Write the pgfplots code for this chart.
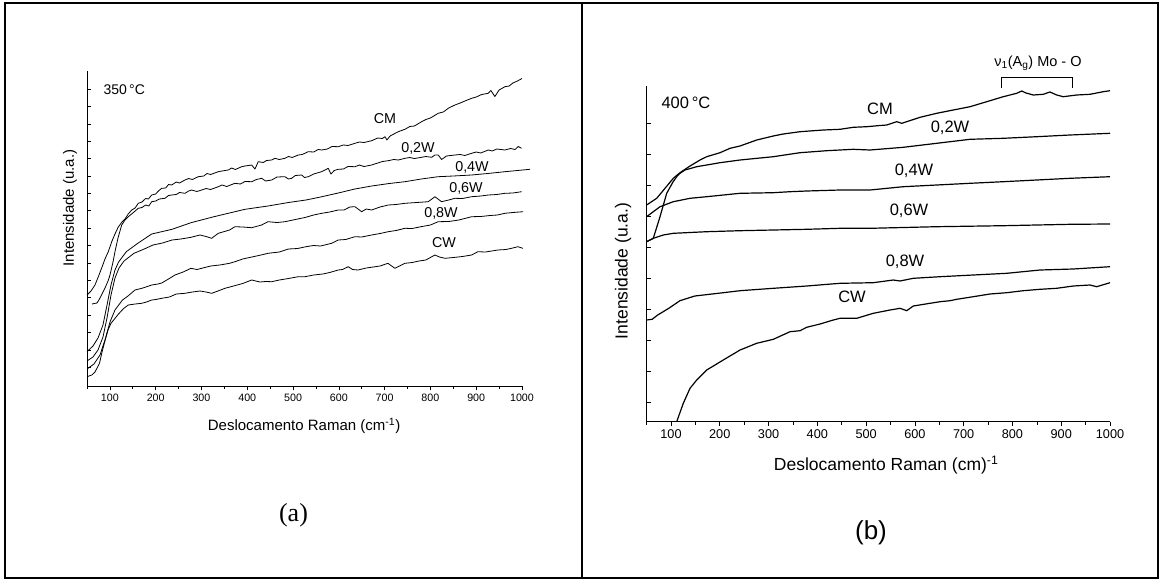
\documentclass[border=0pt]{standalone}
\usepackage{fontspec}
\setmainfont{Liberation Sans}
\newfontfamily\seriffont{Liberation Serif}
\usepackage{pgfplots}
\pgfplotsset{compat=1.18}
\newcommand{\fs}[1]{\fontsize{#1}{#1}\selectfont}
\tikzset{curveA/.style={black, line width=0.8pt, line join=round, mark=none},
         curveB/.style={black, line width=1.2pt, line join=round, mark=none}}
\begin{document}
\begin{tikzpicture}
\path[use as bounding box] (0,0) rectangle (1161pt,-581pt);
\draw[line width=2pt] (5pt,-3pt) rectangle (1158pt,-578pt);
\draw[line width=2pt] (582pt,-3pt) -- (582pt,-578pt);

% ---------------- panel (a) ----------------
\begin{axis}[
  at={(87pt,-386pt)}, anchor=south west, scale only axis,
  width=435pt, height=315pt,
  xmin=50, xmax=1000, ymin=14, ymax=329, clip=false,
  axis x line=bottom, axis y line=left,
  axis line style={-, line width=0.7pt},
  xtick={100,200,...,1000}, minor xtick={50,150,...,950},
  ytick={32.7,50.09,...,312}, yticklabels={},
  xtick align=outside, ytick align=inside,
  major tick length=4pt, minor tick length=3pt,
  every tick/.style={line width=0.6pt, black},
  /pgf/number format/1000 sep={},
  /pgf/number format/assume math mode=true,
  xticklabel style={font=\fs{10.7}},
  xlabel={Deslocamento Raman (cm\textsuperscript{-1})},
  ylabel={Intensidade (u.a.)},
  every axis x label/.style={at={(axis description cs:0.499,-0.127)}, anchor=center, font=\fs{15}},
  every axis y label/.style={at={(axis description cs:-0.039,0.565)}, anchor=center, rotate=90, font=\fs{15}},
]
% CM
\addplot[curveA] coordinates {(50,105)(58.7,109)(67.5,115)(76.2,125)(82.8,133)(89.3,141)(96.5,148.3)(104.6,159)(111.1,166)(118.3,173)(126.4,178)(133,181)(140,186)(147.6,190)(155,192)(162,196.7)(170,198)(178,201.5)(184,201)(191.3,205)(200,206)(206,209)(213.1,211.7)(222,212)(228,215.5)(234.9,215)(245,218)(252,217)(264,220)(272,221.5)(280,220.5)(293,223.3)(305,224)(312,226.5)(320,225.5)(336.7,228.3)(345,229)(358.5,230)(366,232)(374,230.5)(387.8,233.3)(395,234)(409.6,235)(416.8,231)(424,238.3)(435,237.5)(442,239.5)(453.3,240)(460.5,241.7)(470,240.5)(482.3,241.7)(490,243.5)(498,242.5)(511.4,245)(520,245.5)(533.2,248.3)(545,248)(555,250.5)(562.5,250)(575,251)(585,253.5)(598.7,253.3)(610,255)(620,254.5)(635.2,256.7)(645,258)(655,257.5)(671.6,259.3)(685,262)(695,261.5)(700.7,263.3)(705,260)(712,264)(729.7,268.3)(744.3,270.7)(755,273.5)(765,274)(780.8,278.3)(790,280.5)(800,282)(817,286.7)(828,288)(840,292)(853.5,295)(865,297)(878,299.5)(890,301.7)(900,303)(912,305.5)(926.2,306.7)(932,309.5)(940.8,303.5)(950,310)(962.7,313.3)(972,314)(980,317)(990,319)(1000,321.5)};
% 0,2W
\addplot[curveA] coordinates {(60.9,96)(66,96.5)(71.8,97)(76,100)(80.6,104)(85,108)(89.3,112)(95.9,119)(100.2,125)(106.8,138)(111.1,148.3)(117.7,162)(125.8,175)(133,180)(140.2,183.3)(150,187)(162,191.7)(170,192.5)(178,195)(185,194)(191.3,198.3)(200,199)(208,201)(220.3,201.7)(228,204.5)(234.9,205)(245,205.5)(252,207.5)(264,206.7)(272,209)(278.6,210)(290,208.5)(300.4,210)(310,211.5)(320,210.5)(336.7,213.3)(345,215)(355,213.5)(373.1,216.7)(385,216)(395,218.5)(409.6,218.3)(420,220.5)(431.4,221.7)(440,219)(453.3,220)(465,223)(482.3,223.3)(490,221)(497,221.7)(505,224.5)(518.8,225)(525,222.5)(533.2,223.3)(545,226)(562.5,228.3)(576.9,231.7)(582.8,226)(590,229.5)(598.7,230.7)(610,231)(620,233.5)(635.2,233.3)(645,235)(655,233.5)(671.6,235)(685,237)(695,238.5)(707.9,239.3)(720,240.5)(730,240)(744.3,241.7)(755,242.5)(765,241.5)(780.8,242.7)(790,243.5)(802.6,242.7)(810,245)(817,245)(824.4,240.5)(835,244)(853.5,245)(865,245.5)(875,244.5)(890,246.7)(900,248)(910,247)(926.2,250)(935,249)(945,251)(962.7,250)(975,251.5)(985,250.5)(991.7,253.5)(999.1,251.7)};
% 0,4W
\addplot[curveA] coordinates {(50,48.3)(63.1,54)(74,62)(84.9,75)(93.7,95)(102.4,115)(111.1,130)(119,138)(135.8,148.3)(160.9,156.7)(191.3,166)(235.6,170.7)(277.1,177.3)(327.3,183.3)(395,190.7)(445.2,194)(490,197.5)(528.2,200)(560,203)(598.7,207)(635,211)(671.6,214)(710,216.5)(744.3,218.3)(780,221)(817,223.3)(850,224)(890,225)(925,226.5)(962.7,228.3)(990,229.5)(1017.3,230.7)};
% 0,6W
\addplot[curveA] coordinates {(50,39)(63.1,43)(74,50)(84.9,63)(93.7,82)(102.4,105)(111.1,122)(119.9,132)(130.8,139)(152.6,146.7)(175,151)(194.1,155)(215,157)(235.6,160)(255,161)(277.1,162.7)(296.7,165)(310,163.5)(322.3,161.7)(336.7,166.7)(361.4,170)(373.1,173.3)(390,173)(409.6,172.3)(431.4,175)(445.2,178.3)(465,177.5)(482.3,178.3)(505,180.5)(526,182.5)(545,185)(562.5,186.7)(580,188)(598.7,190)(611.2,190)(624,193)(635.2,193.3)(649.8,188.3)(660,191)(671.6,190)(690,193)(707.9,195)(725,195.5)(744.3,196.7)(770,197.5)(795.2,198.3)(809.8,203.3)(824.4,198.3)(840,200)(853.5,201.7)(870,201.5)(890,203.3)(910,204)(926.2,205)(945,205.5)(962.7,206.7)(980,207)(999.1,208.3)};
% 0,8W
\addplot[curveA] coordinates {(50,31)(65.3,36)(78.4,45)(89.3,60)(100.2,78)(111.1,90)(127.5,100)(139.5,104)(154.8,110)(172,112)(191.3,115)(205,116)(213.1,117)(228,121)(242.1,125)(260,128)(277.1,131.7)(290,130.5)(300.4,131.7)(320,134)(340,135)(361.4,136.7)(373.1,138.3)(390,141)(410,143)(430,145)(445.2,146.7)(470,148)(490,151)(510,151.5)(528.2,153.3)(545,154.5)(560,154)(584.3,156.7)(598.7,160)(615,160.5)(635.2,163.3)(650,163)(671.6,165)(690,166.5)(707.9,168.3)(725,169.5)(744.3,171.7)(760,171.5)(779.3,173.3)(800,175)(817,178.3)(840,178.5)(862.2,180)(875,181.5)(890,183.3)(910,183.5)(930,184.5)(946.3,185)(962.7,186.7)(980,187.5)(1002.6,188.3)};
% CW
\addplot[curveA] coordinates {(50,23.3)(60.5,25)(67.5,28)(77.3,36.7)(82.8,48)(89.7,60)(95.9,70)(102.4,76.7)(118.8,86)(130,91.5)(140.2,95)(155,96)(169.4,96.7)(180,98)(191.3,100)(200,100.5)(213.1,101.7)(230,103)(245,106)(264,106.7)(280,108)(296.7,109)(310,108)(322.3,106.7)(336,109)(351.3,111.7)(370,114)(390,116.5)(409.6,120)(427.7,118)(440,118.5)(453.3,118.3)(470,120)(490,121.5)(511.4,123.3)(526,123.3)(545,125)(565,126)(580,127.5)(598.7,130)(608,130.5)(620.5,133.3)(630,130.5)(641.7,130)(660,132)(675,133)(690,134)(707.2,136.7)(722.5,131.7)(744.3,136.7)(760,137.5)(775,139)(790,140)(809.8,145)(820,143)(831.7,141.7)(850,142.5)(870,143.5)(890,145)(903.7,148.3)(920,148)(947.4,150)(965,150.5)(980,152)(991,153.3)(1002,151.7)};
\end{axis}

% ---------------- panel (b) ----------------
\begin{axis}[
  at={(646.6pt,-421.7pt)}, anchor=south west, scale only axis,
  width=463.4pt, height=335.7pt,
  xmin=50, xmax=1000, ymin=18.3, ymax=354, clip=false,
  axis x line=bottom, axis y line=left,
  axis line style={-, line width=0.7pt},
  xtick={100,200,...,1000}, minor xtick={50,150,...,950},
  ytick={37.7,68.7,...,320}, yticklabels={},
  xtick align=outside, ytick align=inside,
  major tick length=4.5pt, minor tick length=3pt,
  every tick/.style={line width=0.6pt, black},
  /pgf/number format/1000 sep={},
  /pgf/number format/assume math mode=true,
  xticklabel style={font=\fs{12.7}},
  xlabel={Deslocamento Raman (cm)\textsuperscript{-1}},
  ylabel={Intensidade (u.a.)},
  every axis x label/.style={at={(axis description cs:0.517,-0.129)}, anchor=center, font=\fs{17.5}},
  every axis y label/.style={at={(axis description cs:-0.051,0.449)}, anchor=center, rotate=90, font=\fs{17.5}},
]
% CM
\addplot[curveB] coordinates {(50,235)(70.7,241.7)(87.7,251.7)(104.7,261.7)(118.5,267.3)(139,274)(159.5,280)(173.2,283.3)(200.5,287.3)(221,291.7)(241.5,294)(275.7,300)(309.7,304)(330.2,306)(364.5,308.3)(412.2,310)(446.5,310.7)(473.7,312.7)(501.2,313.3)(528.4,314.5)(542.2,315)(562.7,318.3)(573,316.7)(583.2,318.3)(610.5,322.7)(644.7,326.7)(678.7,330)(713,333.3)(747.2,338.3)(781.2,343.3)(808.7,346.7)(819,349)(827.8,347)(842.7,345)(863.2,345.7)(877,348)(890.7,345)(904.2,343.3)(931.7,345)(958.9,345.7)(986.2,348.3)(1000,349.3)};
% 0,2W
\addplot[curveB] coordinates {(50,198.3)(63.7,201.7)(77.5,223.3)(91.2,246.7)(104,258)(111.7,263.3)(118.5,266.7)(128.7,270)(152.7,273.3)(200.5,277.3)(241.5,280)(309.7,283.3)(364.5,287.3)(419.2,289.3)(473.7,290.7)(508,290)(576.2,292.7)(644.7,296.7)(713,300.7)(781.2,301.7)(849.7,303.3)(918,305)(1000,306.7)};
% 0,4W
\addplot[curveB] coordinates {(50,223.3)(63.7,228.3)(77.5,233.3)(104.7,238.3)(139,241.7)(173.2,243.3)(241.5,246.7)(309.7,247.3)(344,248.3)(378.2,249)(446.5,250)(508,250)(576.2,253.3)(644.7,255)(713,256.7)(781.2,258.3)(849.7,260)(918,261.7)(1000,263.3)};
% 0,6W
\addplot[curveB] coordinates {(50,198.3)(63.7,201.7)(84.2,205)(104.7,206.7)(173.2,208.3)(241.5,209.3)(309.7,210)(378.2,210.7)(446.5,211.7)(508,211.7)(644.7,213.3)(781.2,214.3)(918,215.7)(1000,216)};
% 0,8W
\addplot[curveB] coordinates {(50,120)(61.3,120.7)(72.7,125)(95.5,131.7)(118.3,139.3)(148.8,144)(207.2,147.3)(241.5,149.3)(309.7,151.7)(378.2,154)(446.5,156.7)(514.7,157.3)(555.7,160)(569.5,159)(596.7,161.7)(651.5,163.3)(719.7,165)(788.2,166.7)(856.5,170)(924.7,171)(1000,173.3)};
% CW
\addplot[curveB] coordinates {(111.7,18.3)(125.2,36.7)(139,51.7)(152.7,60)(173.2,70)(207.2,80)(241.5,90)(275.7,96.7)(309.7,100.7)(344,108.3)(364.5,109.3)(378.2,112.7)(405.5,116)(432.7,120)(446.5,121.7)(480.7,121.7)(514.7,126.7)(549,130)(569.5,131.7)(583.2,129.3)(596.7,134)(631,136.7)(651.5,138.3)(672,139.3)(685.7,140.7)(719.7,143.3)(754,146)(788.2,147.3)(822.2,149.3)(856.5,150.7)(890.7,151.7)(924.7,154)(958.9,155)(972.7,153.3)(1000,157.3)};
\end{axis}

% ---------------- texts ----------------
\node[font=\fs{14}, anchor=west] at (100pt,-90pt) {350\,°C};
\node[font=\fs{14.3}] at (385pt,-119pt) {CM};
\node[font=\fs{14.3}] at (418pt,-148pt) {0,2W};
\node[font=\fs{14.3}] at (472pt,-167pt) {0,4W};
\node[font=\fs{14.3}] at (466pt,-188pt) {0,6W};
\node[font=\fs{14.3}] at (441pt,-213pt) {0,8W};
\node[font=\fs{14.3}] at (444pt,-243pt) {CW};
\node[font=\seriffont\fs{26}] at (293.5pt,-515pt) {(a)};

\node[font=\fs{16.5}, anchor=west] at (658pt,-103pt) {400\,°C};
\node[font=\fs{16.5}] at (880pt,-109pt) {CM};
\node[font=\fs{16.5}] at (950pt,-128pt) {0,2W};
\node[font=\fs{16.5}] at (914pt,-171pt) {0,4W};
\node[font=\fs{16.5}] at (909pt,-211pt) {0,6W};
\node[font=\fs{16.5}] at (905pt,-262pt) {0,8W};
\node[font=\fs{16.5}] at (852pt,-297pt) {CW};
\node[font=\fs{14.5}] at (1038pt,-63pt) {ν\textsubscript{1}(A\textsubscript{g}) Mo - O};
\draw[line width=0.8pt] (1001pt,-88.3pt) -- (1001pt,-77.7pt) -- (1072pt,-77.7pt) -- (1072pt,-88.3pt);
\node[font=\fs{26}] at (871pt,-533pt) {(b)};
\end{tikzpicture}
\end{document}
